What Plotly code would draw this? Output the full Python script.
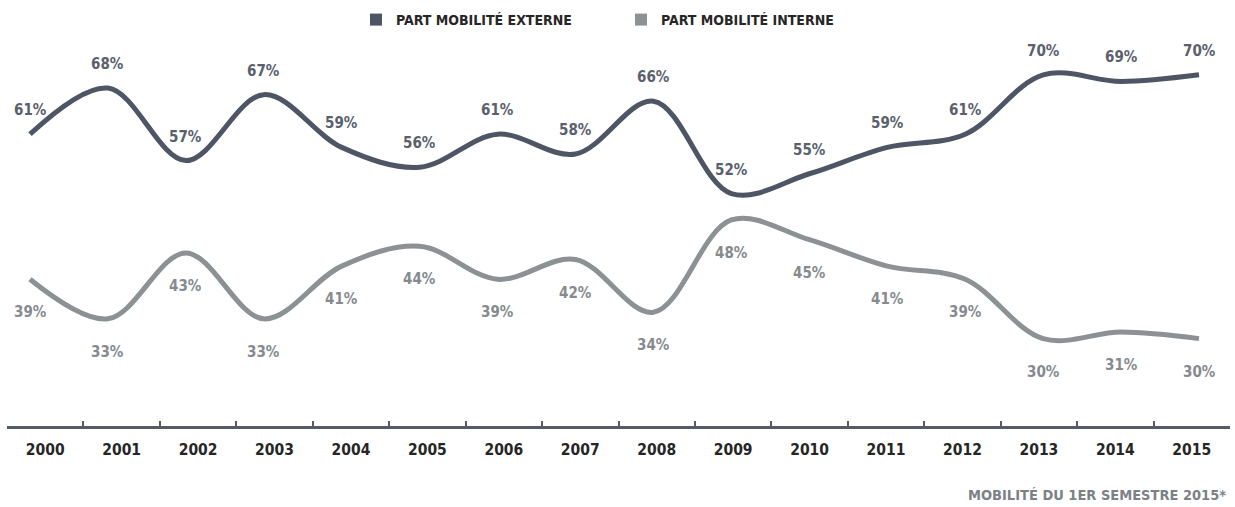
import plotly.graph_objects as go

# Share of external vs internal mobility, 2000-2015 (%)
years = [2000, 2001, 2002, 2003, 2004, 2005, 2006, 2007,
         2008, 2009, 2010, 2011, 2012, 2013, 2014, 2015]
year_labels = [str(y) for y in years]
part_externe = [61, 68, 57, 67, 59, 56, 61, 58, 66, 52, 55, 59, 61, 70, 69, 70]
part_interne = [39, 33, 43, 33, 41, 44, 39, 42, 34, 48, 45, 41, 39, 30, 31, 30]

name_externe = "PART MOBILITÉ EXTERNE"
name_interne = "PART MOBILITÉ INTERNE"
footnote = "MOBILITÉ DU 1ER SEMESTRE 2015*"

FONT = "Liberation Sans Narrow, Arial Narrow, DejaVu Sans Condensed, sans-serif"
C_EXT = "#4e5564"
C_INT = "#8c9194"
C_EXT_TXT = "#5a606c"
C_INT_TXT = "#868a8e"
C_AXIS = "#555b67"
C_DARK = "#262626"

W, H = 1235, 507

fig = go.Figure()

# smoothed series lines
fig.add_trace(go.Scatter(
    x=years, y=part_externe, mode="lines", showlegend=False,
    line=dict(color=C_EXT, width=5, shape="spline", smoothing=1.0),
    hoverinfo="skip"))
fig.add_trace(go.Scatter(
    x=years, y=part_interne, mode="lines", showlegend=False,
    line=dict(color=C_INT, width=5, shape="spline", smoothing=1.0),
    hoverinfo="skip"))

# square legend markers
fig.add_trace(go.Scatter(
    x=[None], y=[None], mode="markers", name=name_externe,
    marker=dict(symbol="square", size=12, color=C_EXT)))
fig.add_trace(go.Scatter(
    x=[None], y=[None], mode="markers", name=name_interne,
    marker=dict(symbol="square", size=12, color=C_INT)))

# invisible trace that populates the year category axis
fig.add_trace(go.Scatter(
    x=year_labels, y=[0] * len(year_labels), xaxis="x2", yaxis="y",
    mode="markers", marker=dict(opacity=0), showlegend=False,
    hoverinfo="skip"))

# value labels
annotations = []
for yr, v in zip(years, part_externe):
    annotations.append(dict(
        x=yr, y=v, xref="x", yref="y", text=f"{v}%", showarrow=False,
        yshift=24,
        font=dict(family=FONT, size=15, color=C_EXT_TXT, weight="bold")))
for yr, v in zip(years, part_interne):
    annotations.append(dict(
        x=yr, y=v, xref="x", yref="y", text=f"{v}%", showarrow=False,
        yshift=-33,
        font=dict(family=FONT, size=15, color=C_INT_TXT, weight="bold")))

annotations.append(dict(
    x=1228 / W, y=(H - 495) / H, xref="paper", yref="paper",
    xanchor="right", yanchor="middle", text=footnote, showarrow=False,
    font=dict(family=FONT, size=14.5, color="#7c8186", weight="bold")))

# line axis: 2000 at x=30px, 2015 at x=1199px
px_per_year = (1199 - 30) / 15
x_lo = 2000 - 30 / px_per_year
x_hi = 2015 + (W - 1199) / px_per_year

fig.update_layout(
    width=W, height=H,
    margin=dict(l=0, r=0, t=0, b=0),
    paper_bgcolor="white", plot_bgcolor="rgba(0,0,0,0)",
    font=dict(family=FONT, color=C_DARK),
    showlegend=True,
    legend=dict(
        orientation="h", x=356 / W, xanchor="left",
        y=1 - 4 / H, yanchor="top",
        font=dict(family=FONT, size=14, color=C_DARK, weight="bold"),
        entrywidth=220, bgcolor="rgba(0,0,0,0)", borderwidth=0),
    xaxis=dict(range=[x_lo, x_hi], visible=False, fixedrange=True),
    xaxis2=dict(
        type="category", domain=[7 / W, 1230 / W], range=[-0.5, 15.5],
        anchor="free", position=(H - 427) / H,
        showline=True, linecolor=C_AXIS, linewidth=3,
        ticks="inside", tickson="boundaries", ticklen=5, tickwidth=2,
        tickcolor=C_AXIS, showgrid=False, zeroline=False,
        ticklabelstandoff=7,
        tickfont=dict(family=FONT, size=15.5, color=C_DARK, weight="bold")),
    yaxis=dict(range=[4.47, 81.35], visible=False, fixedrange=True),
    annotations=annotations,
)

fig.write_html("out.html")
